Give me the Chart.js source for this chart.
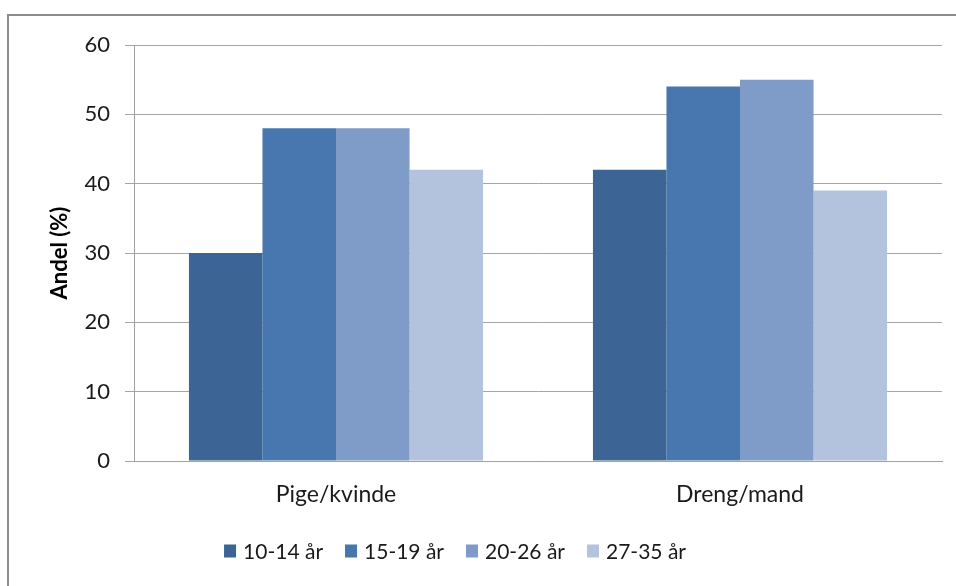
<!DOCTYPE html>
<html>
<head>
<meta charset="utf-8">
<script src="https://cdn.jsdelivr.net/npm/chart.js@4/dist/chart.umd.min.js"></script>
<style>
  html, body { margin: 0; padding: 0; background: #fff; }
  #wrap { width: 956px; height: 586px; position: relative; }
</style>
</head>
<body>
<div id="wrap"><canvas id="c" width="956" height="586"></canvas></div>
<script>
// Share (%) by gender and age group
const categories = ['Pige/kvinde', 'Dreng/mand'];
const ageGroups = ['10-14 år', '15-19 år', '20-26 år', '27-35 år'];
const age10to14 = [30, 42];
const age15to19 = [48, 54];
const age20to26 = [48, 55];
const age27to35 = [42, 39];
const yTicks = [0, 10, 20, 30, 40, 50, 60];
const colors = ['#3C6495', '#4877B0', '#7F9BC7', '#B4C3DD'];

const FONT = 'Lato, "Open Sans", sans-serif';
const seriesValues = [age10to14, age15to19, age20to26, age27to35];

// Frame lines at the left and top of the chart
const framePlugin = {
  id: 'frame',
  beforeDraw(chart) {
    const ctx = chart.ctx;
    ctx.save();
    ctx.fillStyle = '#fff';
    ctx.fillRect(0, 0, chart.width, chart.height);
    ctx.strokeStyle = '#8C8C8C';
    ctx.lineWidth = 2;
    ctx.beginPath();
    ctx.moveTo(8, chart.height);
    ctx.lineTo(8, 15);
    ctx.lineTo(chart.width, 15);
    ctx.stroke();
    ctx.restore();
  }
};

// Legend row under the category labels
const legendPlugin = {
  id: 'rowLegend',
  afterDraw(chart) {
    const ctx = chart.ctx;
    ctx.save();
    ctx.font = '21px ' + FONT;
    ctx.textBaseline = 'middle';
    const box = 13, gapText = 6, gapItem = 22;
    const items = chart.data.datasets.map(d => ({ label: d.label, color: d.backgroundColor, w: ctx.measureText(d.label).width }));
    const total = items.reduce((s, it) => s + box + gapText + it.w, 0) + gapItem * (items.length - 1);
    let x = 455 - total / 2;
    const y = 551;
    items.forEach(it => {
      ctx.fillStyle = it.color;
      ctx.fillRect(x, y - box / 2, box - 1, box);
      x += box + gapText;
      ctx.fillStyle = '#1a1a1a';
      ctx.fillText(it.label, x, y + 1);
      x += it.w + gapItem;
    });
    ctx.restore();
  }
};

new Chart(document.getElementById('c'), {
  type: 'bar',
  data: {
    labels: categories,
    datasets: ageGroups.map((g, i) => ({
      label: g,
      data: seriesValues[i],
      backgroundColor: colors[i],
      borderWidth: 0,
      categoryPercentage: 0.728,
      barPercentage: 1.0
    }))
  },
  options: {
    responsive: false,
    animation: false,
    layout: { padding: { left: 43, top: 45, right: 14, bottom: 0 } },
    plugins: {
      legend: { display: false },
      tooltip: { enabled: false }
    },
    scales: {
      x: {
        grid: { display: false, drawTicks: false },
        border: { display: true, color: '#A0A0A0', width: 1 },
        ticks: { color: '#1a1a1a', font: { family: FONT, size: 23 }, padding: 20 },
        afterFit(s) { s.height = 125; }
      },
      y: {
        min: 0,
        max: 60,
        afterBuildTicks(s) { s.ticks = yTicks.map(v => ({ value: v })); },
        grid: { color: '#A6A6A6', lineWidth: 1, tickLength: 9, drawTicks: true },
        border: { display: true, color: '#A0A0A0', width: 1 },
        ticks: { color: '#1a1a1a', font: { family: FONT, size: 22 }, padding: 15 },
        title: {
          display: true,
          text: 'Andel (%)',
          color: '#000',
          font: { family: FONT, size: 22, weight: 'bold' },
          padding: { top: 4, bottom: 4 }
        },
        afterFit(s) { s.width = 91; }
      }
    }
  },
  plugins: [framePlugin, legendPlugin]
});
</script>
</body>
</html>
